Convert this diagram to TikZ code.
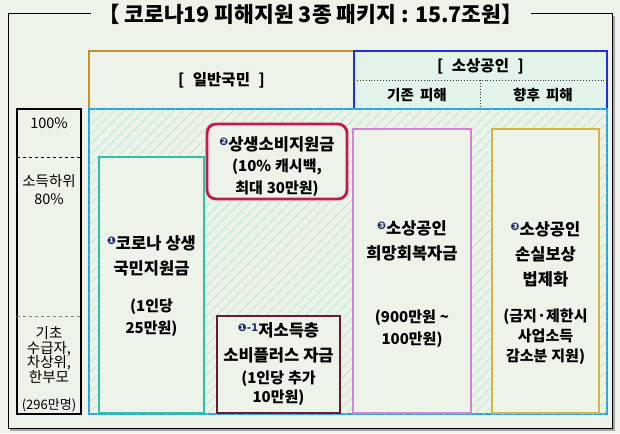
\documentclass[tikz,border=0pt]{standalone}
\usepackage{fontspec}
\setmainfont{Noto Sans CJK KR}
\newfontfamily\dejavu{DejaVu Sans}
\usetikzlibrary{patterns.meta}
\definecolor{bgc}{HTML}{EDF3E8}
\definecolor{goldA}{HTML}{C8902A}
\definecolor{blueB}{HTML}{1E2EE6}
\definecolor{mintB}{HTML}{E2F3EA}
\definecolor{hatchB}{HTML}{2CA4E0}
\definecolor{hatchL}{HTML}{A4E2CC}
\definecolor{tealC}{HTML}{30C0A8}
\definecolor{crimC}{HTML}{C8184A}
\definecolor{maroC}{HTML}{6A1838}
\definecolor{pinkC}{HTML}{D484D0}
\definecolor{goldC}{HTML}{D2B448}
\definecolor{navyN}{HTML}{1A2A6A}
\newcommand{\cnum}[1]{\raisebox{5pt}{\dejavu\fontsize{10.5}{10.5}\selectfont\color{navyN}#1}}
\newcommand{\wsp}{\hspace{4pt}}
\tikzset{
  box/.style={inner sep=0pt,outer sep=0pt,minimum width=#1},
  lbl/.style={align=center,inner sep=0pt,font=\bfseries\fontsize{16.5}{25}\selectfont},
  sub/.style={align=center,inner sep=0pt,font=\bfseries\fontsize{15}{22}\selectfont},
  lft/.style={align=center,inner sep=0pt,font=\fontsize{14.5}{18}\selectfont},
  hdr/.style={inner sep=0pt,font=\bfseries\fontsize{15.5}{17}\selectfont}
}
\begin{document}
\begin{tikzpicture}[x=1pt,y=-1pt]
\fill[bgc] (0,0) rectangle (620,433);
\useasboundingbox (0,0) rectangle (620,433);
% outer frame with shadow
\draw[gray!70,line width=1.2pt] (10,430) -- (614,430) -- (614,16);
\node[box=604,minimum height=414,draw=black,line width=1pt] (frame) at (310,221) {};
\node[fill=bgc,inner xsep=8pt,inner ysep=2pt,font=\bfseries\fontsize{21.5}{24}\selectfont] (title) at (311,14) {【\wsp 코로나19 피해지원 3종 패키지 : 15.7조원】};
% headers
\node[box=265,minimum height=58,draw=goldA,line width=1.8pt,fill=bgc] (hdrA) at (221.5,79.7) {};
\node[box=253,minimum height=58,draw=blueB,line width=2pt,fill=mintB] (hdrB) at (480.5,79.7) {};
\coordinate (dl) at (354,80); \coordinate (dr) at (607,80);
\coordinate (dt) at (480,80); \coordinate (db) at (480,108.7);
\draw[dotted,line width=0.9pt,black!80] (dl) -- (dr);
\draw[dotted,line width=0.9pt,black!80] (dt) -- (db);
\node[hdr] (tA) at (221.5,80) {[\hspace{5pt} 일반국민\hspace{5pt} ]};
\node[hdr] (tB) at (480.5,66.5) {[\hspace{5pt} 소상공인\hspace{5pt} ]};
\node[hdr,font=\bfseries\fontsize{14.5}{16}\selectfont] (tB1) at (417,95) {기존\hspace{3pt} 피해};
\node[hdr,font=\bfseries\fontsize{14.5}{16}\selectfont] (tB2) at (543,95) {향후\hspace{3pt} 피해};
% left column
\node[box=64,minimum height=305,draw=black,line width=1.1pt,fill=bgc] (lcol) at (49,261.5) {};
\coordinate (l1a) at (17,157); \coordinate (l1b) at (81,157);
\coordinate (l2a) at (17,316); \coordinate (l2b) at (81,316);
\draw[dashed,line width=0.7pt] (l1a) -- (l1b);
\draw[dashed,line width=0.7pt,gray] (l2a) -- (l2b);
\node[lft] (p100) at (49,123) {100\%};
\node[lft] (p80) at (49,190) {소득하위\\80\%};
\node[lft,font=\fontsize{14.5}{14.8}\selectfont] (pbasic) at (49,355) {기초\\수급자,\\차상위,\\한부모};
\node[lft,font=\fontsize{13}{14}\selectfont] (p296) at (49,405) {(296만명)};
% hatched region
\node[box=518,minimum height=305,draw=hatchB,line width=1.3pt,
  postaction={pattern={Lines[angle=45,distance=7pt,line width=0.5pt]},pattern color=hatchL}] (hatch) at (348,261.5) {};
% box 1
\node[box=105,minimum height=256,draw=tealC,line width=1.3pt,fill=bgc] (b1) at (151.5,285) {};
\node[lbl] (b1t) at (151.5,255.5) {\cnum{❶}코로나\wsp 상생\\국민지원금};
\node[sub] (b1s) at (151.5,318) {(1인당\\25만원)};
% box 2
\node[box=140,minimum height=75,draw=crimC,line width=2.8pt,rounded corners=9pt,fill=bgc] (b2) at (277,161.5) {};
\node[lbl,font=\bfseries\fontsize{16.5}{21.5}\selectfont] (b2t) at (277,166.5) {\cnum{❷}상생소비지원금\\{\fontsize{15}{21.5}\selectfont(10\%\wsp 캐시백,}\\{\fontsize{15}{21.5}\selectfont 최대\wsp 30만원)}};
% box 1-1
\node[box=123,minimum height=97,draw=maroC,line width=1.3pt,fill=bgc] (b11) at (278.5,364.5) {};
\node[lbl] (b11t) at (278.5,342.5) {\cnum{❶-1}저소득층\\소비플러스\wsp 자금};
\node[sub,font=\bfseries\fontsize{15}{19}\selectfont] (b11s) at (278.5,388.5) {(1인당\wsp 추가\\10만원)};
% box 3
\node[box=118,minimum height=284,draw=pinkC,line width=1.1pt,fill=bgc] (b3) at (412,271) {};
\node[lbl] (b3t) at (412,240.5) {\cnum{❸}소상공인\\희망회복자금};
\node[sub] (b3s) at (412,329) {(900만원\wsp \textasciitilde\\100만원)};
% box 4
\node[box=107,minimum height=284,draw=goldC,line width=1.3pt,fill=bgc] (b4) at (545.5,271) {};
\node[lbl] (b4t) at (545.5,254) {\cnum{❸}소상공인\\손실보상\\법제화};
\node[sub,font=\bfseries\fontsize{15}{20}\selectfont] (b4s) at (545.5,337) {(금지·제한시\\사업소득\\감소분\wsp 지원)};
\end{tikzpicture}
\end{document}
